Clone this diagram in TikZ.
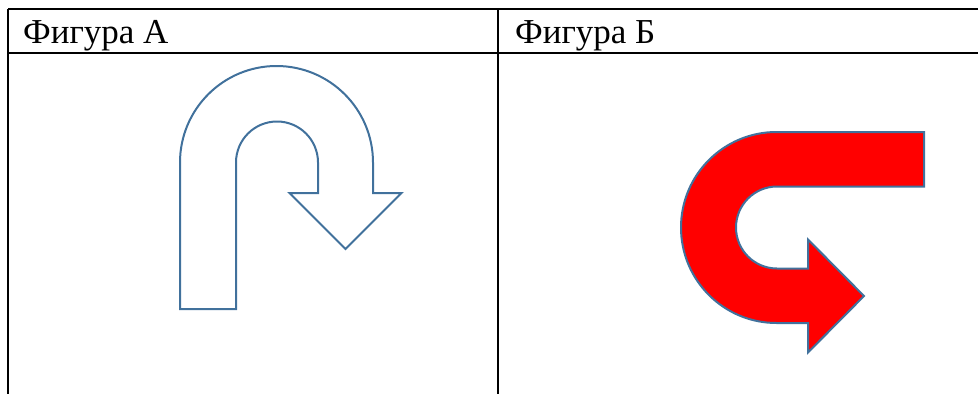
\documentclass[tikz,border=0pt]{standalone}
\usepackage{fontspec}
\setmainfont{Liberation Serif}
\definecolor{outl}{HTML}{41719C}
\definecolor{redf}{HTML}{FF0000}
\begin{document}
\begin{tikzpicture}[x=1pt,y=-1pt,
  grid/.style={line width=1.6pt,black},
  hdr/.style={anchor=base west,inner sep=0pt,font=\fontsize{35}{40}\selectfont},
  arrA/.style={draw=outl,line width=2pt,line join=miter},
  arrB/.style={draw=outl,fill=redf,line width=2pt,line join=miter}]
\useasboundingbox (0,0) rectangle (978,394);
% table
\draw[grid] (8,9) -- (978,9);
\draw[grid] (8,53) -- (978,53);
\draw[grid] (8,9) -- (8,394);
\draw[grid] (498,9) -- (498,394);
\node[hdr] (ha) at (23,43) {Фигура А};
\node[hdr] (hb) at (515,43) {Фигура Б};
% figure A
\draw[arrA] (180,309) -- (180,162.5) arc[start angle=180,end angle=360,radius=96.5]
  -- (373,193) -- (401.5,193) -- (345.5,249) -- (289.5,193) -- (318,193) -- (318,162.5)
  arc[start angle=360,end angle=180,radius=41] -- (236,309) -- cycle;
% figure B
\draw[arrB] (924,132) -- (776.5,132) arc[start angle=270,end angle=90,radius=95.5]
  -- (808,323) -- (808,352.5) -- (864,296) -- (808,239.5) -- (808,268.5) -- (777,268.5)
  arc[start angle=90,end angle=270,radius=41] -- (924,186.5) -- cycle;
\end{tikzpicture}
\end{document}
